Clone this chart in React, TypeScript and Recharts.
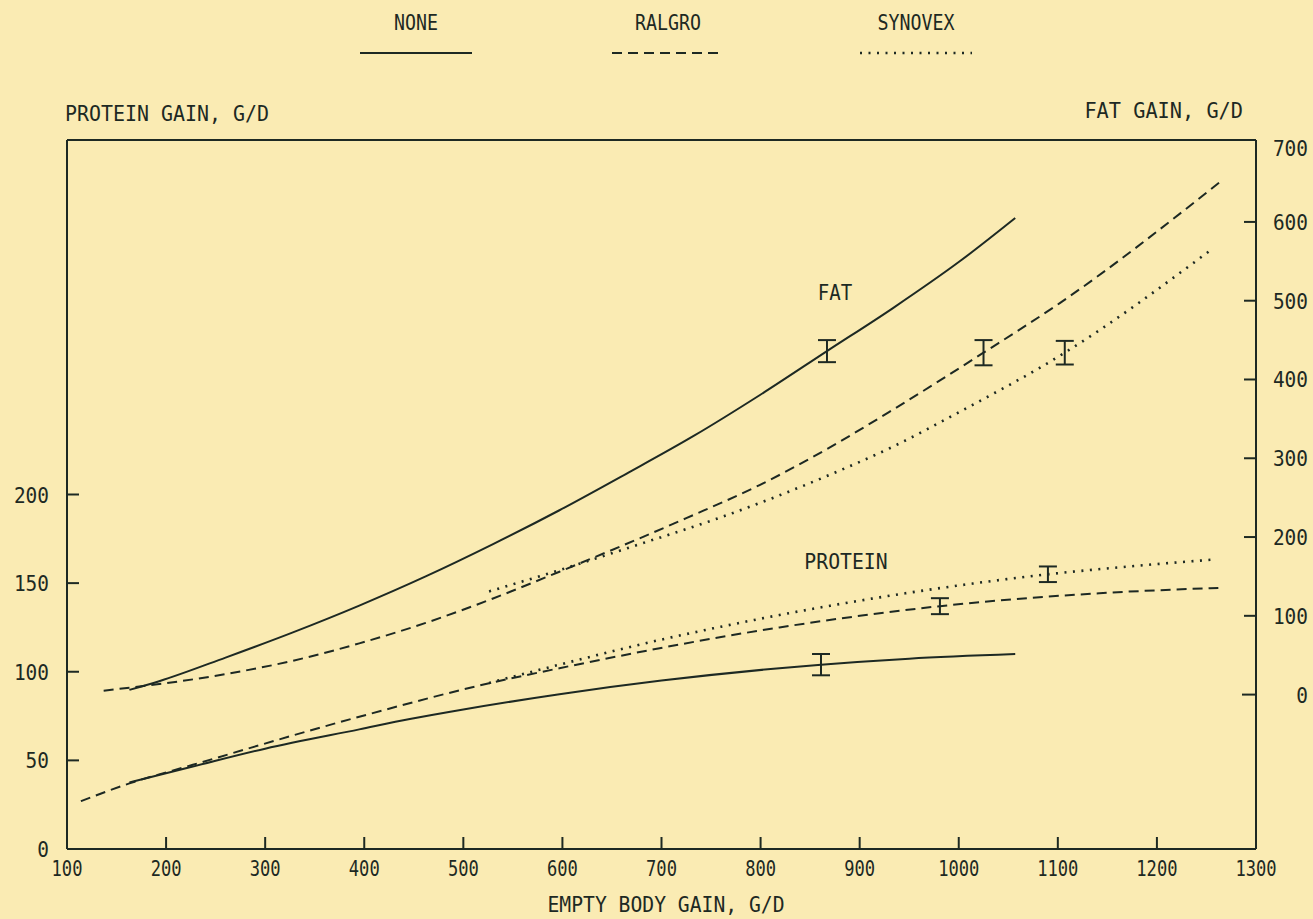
import React from 'react';
import { LineChart, Line, XAxis, YAxis, ReferenceLine, ErrorBar, Legend } from 'recharts';

const W = 1313;
const H = 919;
const BG = '#FAEBB3';
const INK = '#1d2923';
const FONT = '"DejaVu Sans Mono", "Liberation Mono", monospace';

const xTicks = [100, 200, 300, 400, 500, 600, 700, 800, 900, 1000, 1100, 1200, 1300];
const proteinTicks = [0, 50, 100, 150, 200];
const fatTicks = [0, 100, 200, 300, 400, 500, 600, 700];

// FAT GAIN, G/D (right axis) vs EMPTY BODY GAIN, G/D
const fatNone = [[163, 6], [193, 17], [260, 47], [328, 79], [395, 113], [462, 150], [530, 191], [597, 234], [664, 280], [732, 328], [799, 380], [867, 436], [934, 491], [1001, 550], [1057, 605]];
const fatRalgro = [[137, 5], [260, 26], [328, 43], [395, 65], [462, 91], [530, 122], [597, 156], [725, 224], [799, 266], [866, 311], [934, 362], [1025, 434], [1102, 497], [1264, 651]];
const fatSynovex = [[526, 131], [597, 158], [678, 191], [762, 226], [866, 277], [934, 315], [1001, 359], [1107, 434], [1254, 564]];

// PROTEIN GAIN, G/D (left axis) vs EMPTY BODY GAIN, G/D
const proteinNone = [[163, 37.5], [227, 46.5], [300, 56.6], [395, 67.5], [446, 73.3], [500, 78.7], [597, 87.3], [700, 95], [819, 102], [861, 104], [950, 107.4], [1057, 110]];
const proteinRalgro = [[114, 27], [163, 37], [227, 47.5], [395, 74.6], [526, 93.5], [597, 102], [819, 125], [981, 137], [1142, 144.3], [1262, 147.3]];
const proteinSynovex = [[526, 93.7], [597, 104], [698, 117.9], [760, 125.4], [819, 132], [880, 138.2], [950, 144.6], [1020, 150.2], [1090, 155], [1170, 159.3], [1259, 163.4]];

// error bars: [x, y, +/-]
const fatErrors = [[867, 436, 14], [1025, 434, 16], [1107, 434, 15]];
const proteinErrors = [[861, 104, 6], [981, 137, 4.5], [1090, 155, 4.4]];

const treatments = ['NONE', 'RALGRO', 'SYNOVEX'];
const dashes = [undefined, '10 6', '2 6.5'];
const widths = [2, 2, 2.6];

const toPts = (arr: number[][]) => arr.map(([x, y]) => ({ x, y }));
const toErr = (arr: number[][]) => arr.map(([x, y, e]) => ({ x, y, e }));

const fatSeries = [fatNone, fatRalgro, fatSynovex];
const proteinSeries = [proteinNone, proteinRalgro, proteinSynovex];

function Txt(props: any) {
  const { x, y, children, anchor = 'start', size = 21, per = 12, baseline } = props;
  const s = String(children);
  return (
    <text
      x={x}
      y={y}
      textAnchor={anchor}
      dominantBaseline={baseline}
      fontFamily={FONT}
      fontSize={size}
      fill={INK}
      textLength={s.length * per}
      lengthAdjust="spacingAndGlyphs"
    >
      {s}
    </text>
  );
}

function LeftTick(props: any) {
  const { x, y, payload } = props;
  return (
    <g>
      {payload.value !== 0 && <line x1={x} x2={x + 12} y1={y} y2={y} stroke={INK} strokeWidth={2} />}
      <Txt x={x - 18} y={y + 1} anchor="end" per={11.7} baseline="central">{payload.value}</Txt>
    </g>
  );
}

function RightTick(props: any) {
  const { x, y, payload } = props;
  return (
    <g>
      {payload.value !== 700 && <line x1={x} x2={x - (payload.value === 0 ? 14 : 12)} y1={y} y2={y} stroke={INK} strokeWidth={2} />}
      <Txt x={x + 52} y={y + (payload.value === 700 ? 6 : 1)} anchor="end" per={11.7} baseline="central">{payload.value}</Txt>
    </g>
  );
}

function BottomTick(props: any) {
  const { x, y, payload } = props;
  const v = payload.value;
  return (
    <g>
      {v !== 100 && v !== 1300 && <line x1={x} x2={x} y1={y} y2={y - 12} stroke={INK} strokeWidth={2} />}
      <Txt x={x} y={y + 20} anchor="middle" per={10.3} baseline="central">{v}</Txt>
    </g>
  );
}

function Titles() {
  return (
    <g>
      <Txt x={65} y={121} per={12}>PROTEIN GAIN, G/D</Txt>
      <Txt x={1243} y={118} anchor="end" per={12.2}>FAT GAIN, G/D</Txt>
      <Txt x={666} y={912} anchor="middle" per={11.85}>EMPTY BODY GAIN, G/D</Txt>
      <Txt x={835} y={300} anchor="middle" per={11.5}>FAT</Txt>
      <Txt x={846} y={569} anchor="middle" per={11.9}>PROTEIN</Txt>
    </g>
  );
}

const legendCenters = [416, 668, 916];

function LegendContent() {
  return (
    <svg width={W} height={80} style={{ display: 'block' }}>
      {treatments.map((name, i) => (
        <g key={name}>
          <Txt x={legendCenters[i]} y={30} anchor="middle" per={11}>{name}</Txt>
          <line
            x1={legendCenters[i] - 56}
            x2={legendCenters[i] + 56}
            y1={53}
            y2={53}
            stroke={INK}
            strokeWidth={widths[i]}
            strokeDasharray={dashes[i]}
          />
        </g>
      ))}
    </svg>
  );
}

export default function App() {
  return (
    <div style={{ position: 'absolute', left: 0, top: 0, width: W, height: H, background: BG }}>
      <LineChart width={W} height={H} margin={{ top: 140, right: 0, bottom: 10, left: 7 }}>
        <XAxis
          type="number"
          dataKey="x"
          domain={[100, 1300]}
          ticks={xTicks}
          allowDataOverflow
          height={60}
          tickSize={0}
          tickMargin={0}
          tick={<BottomTick />}
          axisLine={{ stroke: INK, strokeWidth: 2 }}
          tickLine={false}
          interval={0}
          label={Titles}
        />
        <YAxis
          yAxisId="left"
          type="number"
          domain={[0, 400]}
          ticks={proteinTicks}
          allowDataOverflow
          width={60}
          tickSize={0}
          tickMargin={0}
          tick={<LeftTick />}
          axisLine={{ stroke: INK, strokeWidth: 2 }}
          tickLine={false}
          interval={0}
        />
        <YAxis
          yAxisId="right"
          orientation="right"
          type="number"
          domain={[-196, 704]}
          ticks={fatTicks}
          allowDataOverflow
          width={57}
          tickSize={0}
          tickMargin={0}
          tick={<RightTick />}
          axisLine={{ stroke: INK, strokeWidth: 2 }}
          tickLine={false}
          interval={0}
        />
        <ReferenceLine yAxisId="left" y={400} stroke={INK} strokeWidth={2} />
        {fatSeries.map((s, i) => (
          <Line
            key={'fat' + i}
            yAxisId="right"
            data={toPts(s)}
            dataKey="y"
            name={treatments[i]}
            type="monotone"
            stroke={INK}
            strokeWidth={widths[i]}
            strokeDasharray={dashes[i]}
            dot={false}
            activeDot={false}
            isAnimationActive={false}
          />
        ))}
        {proteinSeries.map((s, i) => (
          <Line
            key={'pro' + i}
            yAxisId="left"
            data={toPts(s)}
            dataKey="y"
            name={treatments[i] + ' protein'}
            legendType="none"
            type="monotone"
            stroke={INK}
            strokeWidth={widths[i]}
            strokeDasharray={dashes[i]}
            dot={false}
            activeDot={false}
            isAnimationActive={false}
          />
        ))}
        <Line
          yAxisId="right"
          data={toErr(fatErrors)}
          dataKey="y"
          legendType="none"
          stroke="none"
          dot={false}
          activeDot={false}
          isAnimationActive={false}
        >
          <ErrorBar dataKey="e" direction="y" width={9} stroke={INK} strokeWidth={2} isAnimationActive={false} />
        </Line>
        <Line
          yAxisId="left"
          data={toErr(proteinErrors)}
          dataKey="y"
          legendType="none"
          stroke="none"
          dot={false}
          activeDot={false}
          isAnimationActive={false}
        >
          <ErrorBar dataKey="e" direction="y" width={9} stroke={INK} strokeWidth={2} isAnimationActive={false} />
        </Line>
        <Legend
          layout="horizontal"
          verticalAlign="middle"
          align="center"
          content={LegendContent}
          wrapperStyle={{ top: 0, left: 0, width: W, height: 80 }}
        />
      </LineChart>
    </div>
  );
}
